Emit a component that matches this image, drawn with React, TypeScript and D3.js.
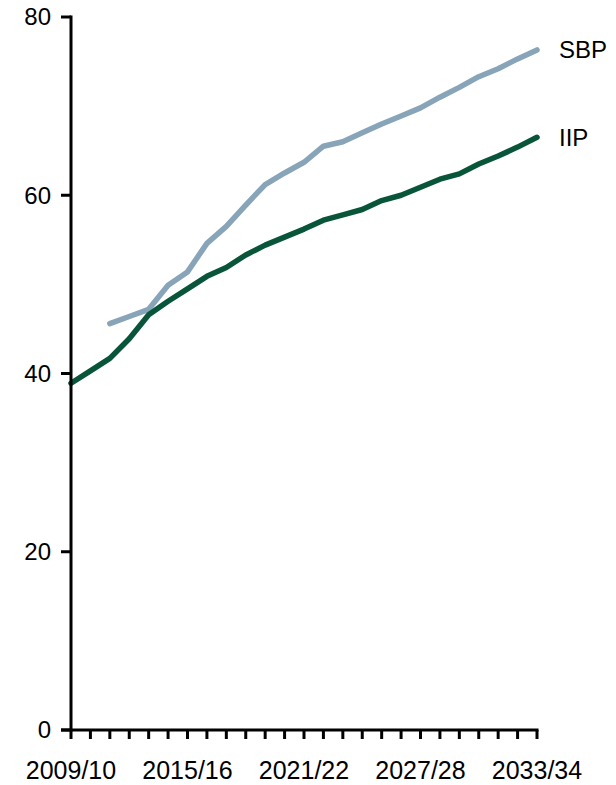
import React from "react";
import * as d3 from "d3";

const years: string[] = [
  "2009/10","2010/11","2011/12","2012/13","2013/14","2014/15","2015/16","2016/17","2017/18","2018/19",
  "2019/20","2020/21","2021/22","2022/23","2023/24","2024/25","2025/26","2026/27","2027/28","2028/29",
  "2029/30","2030/31","2031/32","2032/33","2033/34",
];
const iip: (number | null)[] = [
  38.9, 40.3, 41.7, 43.9, 46.6, 48.1, 49.5, 50.9, 51.9, 53.3,
  54.4, 55.3, 56.2, 57.2, 57.8, 58.4, 59.4, 60.0, 60.9, 61.8,
  62.4, 63.5, 64.4, 65.4, 66.5,
];
const sbp: (number | null)[] = [
  null, null, 45.6, 46.4, 47.2, 49.9, 51.4, 54.6, 56.5, 58.9,
  61.2, 62.5, 63.7, 65.5, 66.0, 67.0, 68.0, 68.9, 69.8, 71.0,
  72.1, 73.3, 74.2, 75.3, 76.3,
];
const yTicks = [0, 20, 40, 60, 80];
const xLabelEvery = 6;

const seriesList = [
  { name: "SBP", values: sbp, color: "#87a4b9" },
  { name: "IIP", values: iip, color: "#08553a" },
];

export default function App() {
  const W = 616, H = 785;
  const x = d3.scaleLinear().domain([0, years.length - 1]).range([71, 537]);
  const y = d3.scaleLinear().domain([0, 80]).range([730, 17]);
  const font = "'Liberation Sans', Arial, sans-serif";
  const line = d3
    .line<number | null>()
    .defined((d) => d != null)
    .x((_, i) => x(i))
    .y((d) => y(d as number));

  return (
    <svg width={W} height={H} style={{ position: "absolute", left: 0, top: 0 }}>
      <rect width={W} height={H} fill="#fff" />
      {seriesList.map((s) => (
        <path key={s.name} d={line(s.values) || ""} fill="none" stroke={s.color} strokeWidth={5.5} strokeLinejoin="round" strokeLinecap="round" />
      ))}
      {/* y axis */}
      <line x1={x(0)} x2={x(0)} y1={y(80) - 1.5} y2={y(0) + 1.5} stroke="#000" strokeWidth={3} />
      {yTicks.map((t) => (
        <g key={t}>
          <line x1={x(0) - 10} x2={x(0)} y1={y(t)} y2={y(t)} stroke="#000" strokeWidth={3} />
          <text x={51} y={y(t)} dy="0.35em" textAnchor="end" fontFamily={font} fontSize={24} fill="#000">{t}</text>
        </g>
      ))}
      {/* x axis */}
      <line x1={x(0) - 10} x2={x(years.length - 1) + 1.5} y1={y(0)} y2={y(0)} stroke="#000" strokeWidth={3} />
      {years.map((yr, i) => (
        <g key={yr}>
          <line x1={x(i)} x2={x(i)} y1={y(0)} y2={y(0) + 9} stroke="#000" strokeWidth={3} />
          {i % xLabelEvery === 0 && (
            <text x={x(i)} y={779} textAnchor="middle" fontFamily={font} fontSize={25} fill="#000">{yr}</text>
          )}
        </g>
      ))}
      {seriesList.map((s) => {
        const last = s.values.length - 1;
        return (
          <text key={s.name + "-l"} x={x(last) + 22} y={y(s.values[last] as number)} dy="0.35em" fontFamily={font} fontSize={24} fill="#000">{s.name}</text>
        );
      })}
    </svg>
  );
}
